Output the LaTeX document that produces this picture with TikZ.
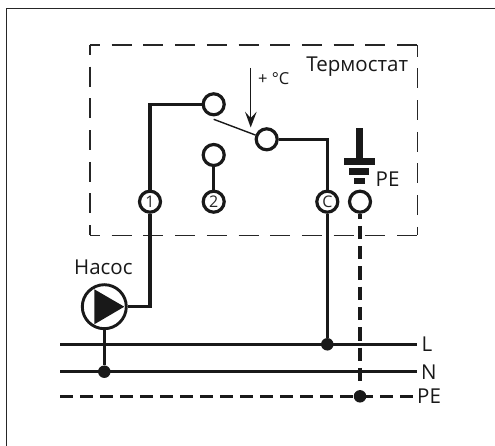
\documentclass[tikz,border=0pt]{standalone}
\usepackage{fontspec}
\setmainfont{Open Sans}
\tikzset{x=1pt,y=-1pt,
 wire/.style={line width=3.2pt,black!90,line join=miter},
 pewire/.style={wire,dash pattern=on 13pt off 7pt},
 frame/.style={line width=1.4pt,black!85,dash pattern=on 20pt off 11.7pt,dash phase=10pt},
 term/.style={circle,draw=black!90,line width=3.2pt,fill=white,minimum size=21pt,inner sep=0pt},
 lterm/.style={term,font=\fontsize{16}{16}\selectfont,text=black!85},
 jdot/.style={circle,fill=black!90,minimum size=12.5pt,inner sep=0pt},
 lab/.style={inner sep=0pt,anchor=base west,font=\fontsize{20.5}{20.5}\selectfont,text=black!90}}
\begin{document}
\begin{tikzpicture}
\useasboundingbox (0,0) rectangle (495,446);
\fill[white] (0,0) rectangle (495,446);
\draw[line width=1.4pt,black!85] (6.7,446) -- (6.7,8.3) -- (495,8.3);
% thermostat boundary
\coordinate (fa) at (90,45); \coordinate (fb) at (417.3,45);
\coordinate (fc) at (417.3,235.5); \coordinate (fd) at (90,235.5);
\draw[frame] (fa) -- (fb);
\draw[frame] (fa) -- (fd);
\draw[frame,dash phase=8.3pt] (fb) -- (fc);
\draw[frame] (fd) -- (fc);
% points
\node[jdot] (dL) at (327.3,344.3) {};
\node[jdot] (dN) at (104.3,371.7) {};
\node[jdot] (dPE) at (360,396.3) {};
\coordinate (Ls) at (60,344.3); \coordinate (Le) at (417.3,344.3);
\coordinate (Ns) at (60,371.7); \coordinate (Ne) at (417.3,371.7);
\coordinate (Ps) at (60,396.3); \coordinate (Pe) at (413,396.3);
\coordinate (cA) at (150,104.3);
\coordinate (cB) at (327.3,139.3);
\coordinate (pB) at (150,306.7);
\coordinate (sw) at (213.7,119.3);
\coordinate (peEnd) at (360,383);
% bus
\draw[wire] (Ls) -- (Le);
\draw[wire] (Ns) -- (Ne);
\draw[pewire] (Ps) -- (Pe);
\node[term] (a) at (213.7,104.3) {};
\node[term] (b) at (266.7,139.3) {};
\node[term] (c) at (213.7,155) {};
\node[lterm] (t1) at (150,201.7) {1};
\node[lterm] (t2) at (213.7,201.7) {2};
\node[lterm] (tC) at (327.3,201.7) {C};
\node[term] (tP) at (360,201.7) {};
\node[circle,draw=black!90,line width=2.9pt,fill=white,minimum size=44pt,inner sep=0pt] (pump) at (104.3,306.7) {};
\fill[black!90] (94.3,289.3) -- (124.3,306.7) -- (94.3,324.3) -- cycle;
\draw[wire] (t1) -- (cA) -- (a);
\draw[wire] (t1) -- (pB) -- (pump);
\draw[wire] (b) -- (cB) -- (tC);
\draw[wire] (tC) -- (dL);
\draw[wire] (c) -- (t2);
\draw[wire] (pump) -- (dN);
\draw[pewire,dash pattern=on 13.3pt off 7pt,dash phase=8.3pt] (tP) -- (peEnd);
\draw[line width=1.4pt,black!90] (sw) -- (b);
\coordinate (arTop) at (250.7,68);
\coordinate (arEnd) at (250.7,118);
\draw[line width=1.4pt,black!90] (arTop) -- (arEnd);
\fill[black!90] (245,111.7) -- (250.7,118) -- (256.7,111.7) -- (250.7,127.5) -- cycle;
% earth
\fill[black!90] (356,128) rectangle (362.7,160);
\fill[black!90] (344,158) rectangle (375,165);
\fill[black!90] (349.3,168) rectangle (369.3,175);
\fill[black!90] (354,178) rectangle (365,184);
\node[lab] (pe2) at (375.5,186.7) {PE};
\node[lab] (th) at (306.2,71.7) {Термостат};
\node[lab,font=\fontsize{16.5}{16.5}\selectfont] (tc) at (258,84.5) {+ °C};
\node[lab] (nas) at (74,274) {Насос};
\node[lab] (lL) at (421.5,351.7) {L};
\node[lab] (lN) at (421,379) {N};
\node[lab] (lP) at (417,403.7) {PE};
\end{tikzpicture}
\end{document}
